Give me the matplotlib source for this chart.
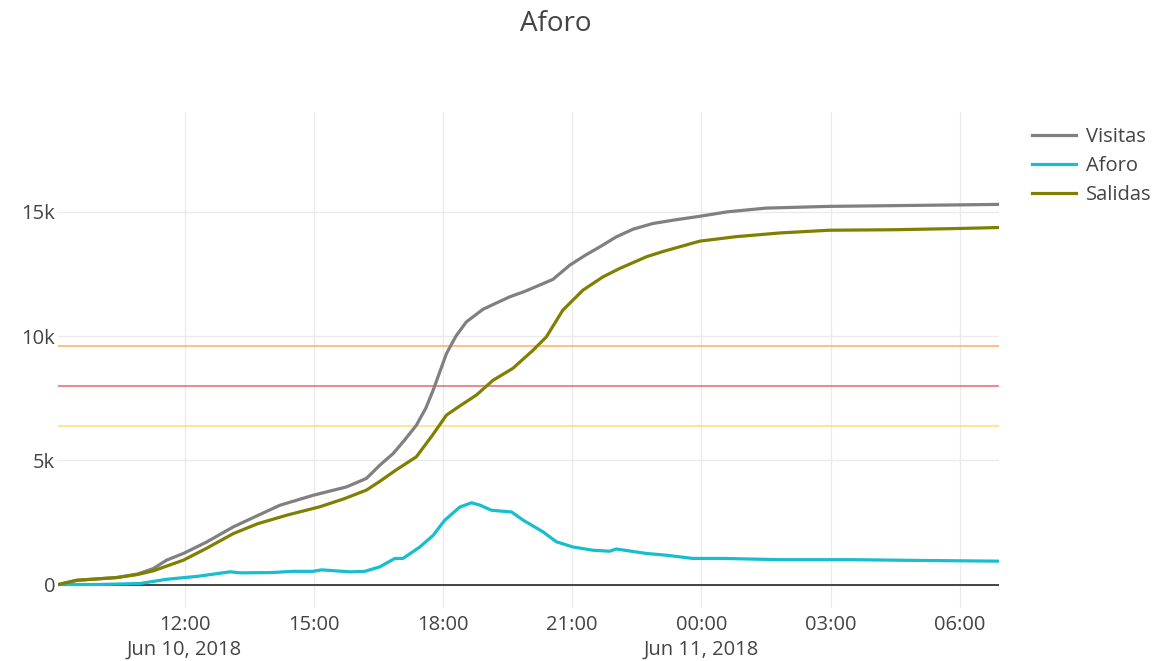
import pandas as pd
import matplotlib.pyplot as plt
from matplotlib.ticker import FuncFormatter

plt.rcParams['font.family'] = ['Open Sans', 'DejaVu Sans']

# Horas desde el 10 jun 2018 00:00 y valores
BASE = pd.Timestamp("2018-06-10 00:00")

visitas_h = [9.07, 9.5, 10.42, 10.9, 11.27, 11.58, 11.97, 12.5, 13.13, 13.6, 14.21, 14.98,
             15.76, 16.22, 16.53, 16.84, 17.1, 17.38, 17.6, 17.77, 18.08, 18.3, 18.54, 18.93,
             19.2, 19.55, 19.9, 20.24, 20.55, 20.94, 21.3, 21.64, 22.02, 22.41, 22.87, 23.4,
             23.96, 24.6, 25.5, 26.97, 28.5, 30.0, 30.92]
visitas = [0, 170, 280, 420, 640, 980, 1250, 1700, 2320, 2700, 3190, 3590,
           3930, 4270, 4800, 5270, 5800, 6410, 7100, 7820, 9300, 10000, 10570, 11080,
           11300, 11580, 11800, 12050, 12280, 12850, 13250, 13590, 13990, 14300, 14530, 14680,
           14820, 15000, 15150, 15220, 15250, 15280, 15300]

salidas_h = [9.07, 9.49, 10.42, 10.9, 11.27, 11.97, 12.5, 13.13, 13.7, 14.37, 15.14, 15.7,
             16.22, 16.53, 16.9, 17.38, 17.75, 18.08, 18.4, 18.77, 19.16, 19.62, 20.09, 20.4,
             20.78, 21.25, 21.71, 22.1, 22.72, 23.1, 23.49, 23.96, 24.8, 25.82, 26.97, 28.5,
             29.99, 30.92]
salidas = [0, 170, 280, 400, 550, 980, 1450, 2050, 2450, 2790, 3130, 3450,
           3800, 4150, 4600, 5140, 6000, 6820, 7200, 7620, 8220, 8700, 9430, 9970,
           11040, 11850, 12380, 12720, 13190, 13400, 13590, 13820, 14000, 14150, 14260, 14280,
           14330, 14370]

aforo_h = [9.07, 10.0, 10.96, 11.58, 12.3, 13.05, 13.3, 14.0, 14.5, 14.98, 15.18, 15.84,
           16.18, 16.53, 16.88, 17.07, 17.46, 17.77, 18.04, 18.39, 18.66, 18.85, 19.12, 19.59,
           19.86, 20.32, 20.63, 21.02, 21.48, 21.87, 22.02, 22.72, 23.18, 23.8, 24.5, 25.82,
           27.5, 29.0, 30.92]
aforo = [0, 0, 40, 210, 330, 510, 470, 480, 530, 530, 590, 510,
         530, 710, 1050, 1050, 1510, 1980, 2590, 3120, 3290, 3200, 2990, 2920,
         2590, 2120, 1720, 1510, 1380, 1340, 1430, 1250, 1180, 1050, 1050, 1000,
         1000, 970, 940]

# limites de aforo (120%, 100%, 80%)
limites = [9600, 8000, 6400]
colores_limites = ["#ffa64d", "#e05a5f", "#ffd966"]

x_ticks = ["2018-06-10 12:00", "2018-06-10 15:00", "2018-06-10 18:00", "2018-06-10 21:00",
           "2018-06-11 00:00", "2018-06-11 03:00", "2018-06-11 06:00"]
x_labels = ["12:00\nJun 10, 2018", "15:00", "18:00", "21:00",
            "00:00\nJun 11, 2018", "03:00", "06:00"]
y_ticks = [0, 5000, 10000, 15000]


def a_fecha(horas):
    return BASE + pd.to_timedelta(horas, unit="h")


fig = plt.figure(figsize=(11.68, 6.61), dpi=100)
ax = fig.add_axes([0.0497, 0.080, 0.806, 0.751])

for y, c in zip(limites, colores_limites):
    ax.axhline(y, color=c, linewidth=1.1, alpha=0.9, zorder=1)

ax.axhline(0, color="#444444", linewidth=1.4, zorder=2)

ax.plot(a_fecha(visitas_h), visitas, color="#808080", linewidth=2.3, label="Visitas", zorder=3)
ax.plot(a_fecha(aforo_h), aforo, color="#17becf", linewidth=2.3, label="Aforo", zorder=3)
ax.plot(a_fecha(salidas_h), salidas, color="#808000", linewidth=2.3, label="Salidas", zorder=3)

ax.set_xlim(a_fecha(9.06), a_fecha(30.92))
ax.set_ylim(-950, 19030)

ax.set_xticks(pd.to_datetime(x_ticks))
ax.set_xticklabels(x_labels, linespacing=1.3)
ax.set_yticks(y_ticks)
ax.yaxis.set_major_formatter(FuncFormatter(lambda v, p: "0" if v == 0 else f"{v/1000:.0f}k"))

ax.grid(True, color="#ebebeb", linewidth=1.0, zorder=0)
ax.set_axisbelow(True)
for s in ax.spines.values():
    s.set_visible(False)
ax.tick_params(length=0, labelsize=14.5, colors="#444444")
ax.tick_params(axis="y", pad=2)
ax.tick_params(axis="x", pad=5)

fig.suptitle("Aforo", x=0.476, y=0.985, fontsize=20, color="#444444")

fig.legend(loc="upper left", bbox_to_anchor=(0.868, 0.835), frameon=False,
           fontsize=14.5, handlelength=2.2, handletextpad=0.5, labelspacing=0.45,
           labelcolor="#444444")

fig.savefig("out.png", dpi=100)
